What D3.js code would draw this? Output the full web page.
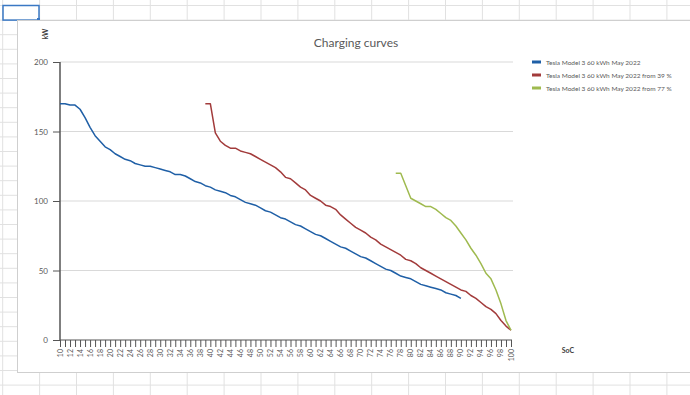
<!DOCTYPE html>
<html lang="en">
<head>
<meta charset="utf-8">
<title>Charging curves</title>
<script src="https://d3js.org/d3.v7.min.js"></script>
<style>
body { margin:0; background:#fff; font-family:Lato, sans-serif; }
svg { display:block; }
.sheet line { stroke:#e1e1e1; stroke-width:1; }
.grid line { stroke:#d9d9d9; stroke-width:1; }
.series { fill:none; stroke-width:1.5; stroke-linejoin:round; }
</style>
</head>
<body>
<svg id="chart" width="690" height="395"></svg>
<script>
// categories (SoC %) and tick labels
var socCategories = d3.range(10, 101);
var yTicks = [0, 50, 100, 150, 200];
var seriesNames = ["Tesla Model 3 60 kWh May 2022", "Tesla Model 3 60 kWh May 2022 from 39 %", "Tesla Model 3 60 kWh May 2022 from 77 %"];
var seriesColors = ["#1f5fa6", "#a23b3b", "#9fba4f"];

// kW values, first value at the start SoC
var blueStart = 10;
var blueKw = [170,170,169,169,166,160,153,147,143,139,137,134,132,130,129,127,126,125,125,124,
  123,122,121,119,119,118,116,114,113,111,110,108,107,106,104,103,101,99,98,97,
  95,93,92,90,88,87,85,83,82,80,78,76,75,73,71,69,67,66,64,62,
  60,59,57,55,53,51,50,48,46,45,44,42,40,39,38,37,36,34,33,32,30];
var redStart = 39;
var redKw = [170,170,149,143,140,138,138,136,135,134,132,130,128,126,124,121,117,116,113,110,
  108,104,102,100,97,96,94,90,87,84,81,79,77,74,72,69,67,65,63,61,
  58,57,55,52,50,48,46,44,42,40,38,36,35,32,30,27,24,22,19,14,10,7];
var greenStart = 77;
var greenKw = [120,120,111,102,100,98,96,96,94,91,88,86,82,77,72,66,61,55,48,44,36,26,14,7];

var svg = d3.select("#chart");

// spreadsheet background grid
var sheet = svg.append("g").attr("class","sheet");
for (var gx = 2.7; gx < 690; gx += 36.9) sheet.append("line").attr("x1",gx).attr("x2",gx).attr("y1",0).attr("y2",395);
for (var gy = 5.5; gy < 395; gy += 14.6) sheet.append("line").attr("x1",0).attr("x2",690).attr("y1",gy).attr("y2",gy);
svg.append("rect").attr("x",3).attr("y",5.5).attr("width",36).attr("height",14.6)
  .attr("fill","none").attr("stroke","#3a78c4").attr("stroke-width",1.5);
svg.append("rect").attr("x",37).attr("y",18).attr("width",3).attr("height",3).attr("fill","#3a78c4");

// chart area
svg.append("rect").attr("x",17.5).attr("y",20.5).attr("width",690).attr("height",352)
  .attr("fill","#fff").attr("stroke","#cfcfcf");

var x = d3.scaleLinear().domain([10, 100]).range([60, 511]);
var y = d3.scaleLinear().domain([0, 200]).range([340, 62]);

svg.append("g").attr("class","grid").selectAll("line").data(yTicks.slice(1)).join("line")
  .attr("x1",60).attr("x2",513).attr("y1",function(d){return y(d);}).attr("y2",function(d){return y(d);});

var yAxis = svg.append("g").attr("transform","translate(60,0)")
  .call(d3.axisLeft(y).tickValues(yTicks).tickSize(7).tickPadding(5));
yAxis.select(".domain").attr("stroke","#555").attr("stroke-width",1.5).attr("d","M0,62V340");
yAxis.selectAll(".tick line").attr("stroke","#555");
yAxis.selectAll("text").attr("fill","#595959").style("font-size","8px").style("font-family","Lato, sans-serif");

var xAxis = svg.append("g").attr("transform","translate(0,340)")
  .call(d3.axisBottom(x).tickValues(socCategories).tickSize(7).tickFormat(""));
xAxis.select(".domain").attr("stroke","#555").attr("stroke-width",1.2).attr("d","M60,0H512");
xAxis.selectAll(".tick line").attr("stroke","#555");

svg.append("g").selectAll("text").data(socCategories.filter(function(d){return d % 2 === 0;})).join("text")
  .attr("transform",function(d){return "translate(" + (x(d)+2.5) + ",349) rotate(-90)";})
  .attr("text-anchor","end").attr("fill","#595959")
  .style("font-size","7px").text(function(d){return d;});

function seriesData(start, vals){ return vals.map(function(v,i){ return {soc:start+i, kw:v}; }); }
var line = d3.line().x(function(d){return x(d.soc);}).y(function(d){return y(d.kw);});
[[blueStart,blueKw],[redStart,redKw],[greenStart,greenKw]].forEach(function(s,i){
  svg.append("path").attr("class","series").attr("stroke",seriesColors[i])
    .attr("d", line(seriesData(s[0], s[1])));
});

// title and axis titles
svg.append("text").attr("x",356).attr("y",47).attr("text-anchor","middle")
  .attr("fill","#595959").style("font-size","12px").text("Charging curves");
svg.append("text").attr("transform","translate(48,34) rotate(-90)").attr("text-anchor","middle")
  .attr("fill","#404040").style("font-size","7px").style("font-weight","bold").text("kW");
svg.append("text").attr("x",568).attr("y",353).attr("text-anchor","middle")
  .attr("fill","#404040").style("font-size","7px").style("font-weight","bold").text("SoC");

// legend
var leg = svg.append("g").selectAll("g").data(seriesNames).join("g")
  .attr("transform",function(d,i){return "translate(532," + (62 + i*13) + ")";});
leg.append("line").attr("x1",0).attr("x2",9).attr("stroke",function(d,i){return seriesColors[i];}).attr("stroke-width",3);
leg.append("text").attr("x",14).attr("y",2.5).attr("fill","#595959").style("font-size","6.5px").text(function(d){return d;});
</script>
</body>
</html>
